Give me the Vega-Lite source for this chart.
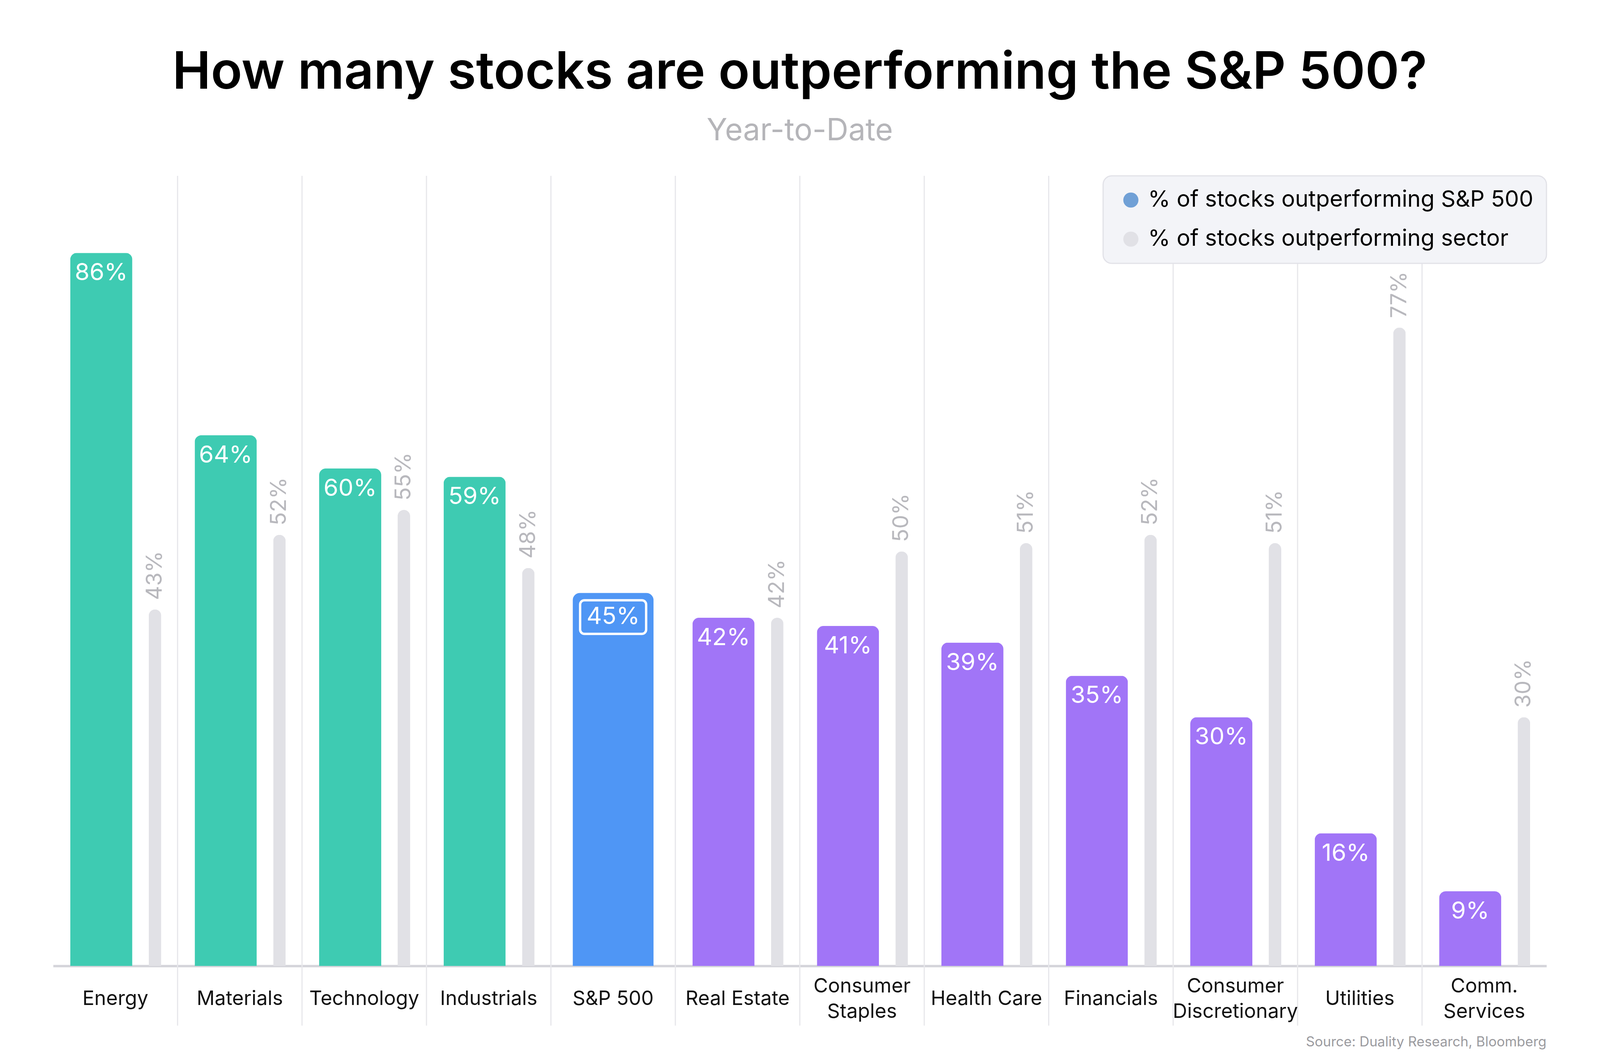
{
  "$schema": "https://vega.github.io/schema/vega-lite/v6.json",
  "width": 3823,
  "height": 2022,
  "autosize": {"type": "none"},
  "padding": {"left": 136, "top": 450, "right": 137, "bottom": 228},
  "background": "white",
  "title": {
    "text": "How many stocks are outperforming the S&P 500?",
    "subtitle": "Year-to-Date",
    "anchor": "middle",
    "font": "Inter",
    "fontSize": 132,
    "fontWeight": 600,
    "color": "#000000",
    "subtitleFont": "Inter",
    "subtitleFontSize": 78,
    "subtitleColor": "#b5b5b9",
    "subtitlePadding": 42,
    "offset": 72
  },
  "config": {"view": {"stroke": null}, "font": "Inter"},
  "datasets": {
    "sectors": [
      {"sector": "Energy", "group": "above", "vs_index": 0.86, "vs_sector": 0.43},
      {"sector": "Materials", "group": "above", "vs_index": 0.64, "vs_sector": 0.52},
      {"sector": "Technology", "group": "above", "vs_index": 0.60, "vs_sector": 0.55},
      {"sector": "Industrials", "group": "above", "vs_index": 0.59, "vs_sector": 0.48},
      {"sector": "S&P 500", "group": "index", "vs_index": 0.45, "vs_sector": null},
      {"sector": "Real Estate", "group": "below", "vs_index": 0.42, "vs_sector": 0.42},
      {"sector": "Consumer Staples", "group": "below", "vs_index": 0.41, "vs_sector": 0.50},
      {"sector": "Health Care", "group": "below", "vs_index": 0.39, "vs_sector": 0.51},
      {"sector": "Financials", "group": "below", "vs_index": 0.35, "vs_sector": 0.52},
      {"sector": "Consumer Discretionary", "group": "below", "vs_index": 0.30, "vs_sector": 0.51},
      {"sector": "Utilities", "group": "below", "vs_index": 0.16, "vs_sector": 0.77},
      {"sector": "Comm. Services", "group": "below", "vs_index": 0.09, "vs_sector": 0.30}
    ],
    "series": [
      {"series": "% of stocks outperforming S&P 500"},
      {"series": "% of stocks outperforming sector"}
    ]
  },
  "layer": [
    {
      "data": {"name": "sectors"},
      "transform": [{"filter": "datum.sector != 'Energy'"}],
      "mark": {"type": "rule", "color": "#e7e7eb", "strokeWidth": 3},
      "encoding": {
        "x": {"field": "sector", "type": "nominal", "sort": null, "bandPosition": 0,
              "scale": {"domain": ["Energy", "Materials", "Technology", "Industrials", "S&P 500", "Real Estate", "Consumer Staples", "Health Care", "Financials", "Consumer Discretionary", "Utilities", "Comm. Services"], "paddingInner": 0, "paddingOuter": 0}},
        "y": {"datum": 0.953, "type": "quantitative", "scale": {"domain": [0, 0.953]}, "axis": null},
        "y2": {"datum": -0.072}
      }
    },
    {
      "data": {"name": "sectors"},
      "transform": [{"filter": "isValid(datum.vs_sector)"}],
      "mark": {"type": "bar", "width": 32, "xOffset": 101.5, "color": "#e1e1e6", "cornerRadiusTopLeft": 16, "cornerRadiusTopRight": 16},
      "encoding": {
        "x": {"field": "sector", "type": "nominal", "sort": null,
              "scale": {"domain": ["Energy", "Materials", "Technology", "Industrials", "S&P 500", "Real Estate", "Consumer Staples", "Health Care", "Financials", "Consumer Discretionary", "Utilities", "Comm. Services"], "paddingInner": 0, "paddingOuter": 0}},
        "y": {"field": "vs_sector", "type": "quantitative", "scale": {"domain": [0, 0.953]}, "axis": null}
      }
    },
    {
      "data": {"name": "sectors"},
      "transform": [{"filter": "datum.group != 'index'"}],
      "mark": {"type": "bar", "width": 159, "xOffset": -36, "cornerRadiusTopLeft": 17, "cornerRadiusTopRight": 17},
      "encoding": {
        "x": {"field": "sector", "type": "nominal", "sort": null,
              "scale": {"domain": ["Energy", "Materials", "Technology", "Industrials", "S&P 500", "Real Estate", "Consumer Staples", "Health Care", "Financials", "Consumer Discretionary", "Utilities", "Comm. Services"], "paddingInner": 0, "paddingOuter": 0},
              "axis": {
                "title": null,
                "ticks": false,
                "tickSize": 0,
                "grid": false,
                "labels": false,
                "domainColor": "#d4d4da",
                "domainWidth": 6
              }},
        "y": {"field": "vs_index", "type": "quantitative", "scale": {"domain": [0, 0.953]}, "axis": null},
        "fill": {"field": "group", "type": "nominal", "scale": {"domain": ["above", "index", "below"], "range": ["#3ecbb2", "#4f96f5", "#a175f7"]}, "legend": null}
      }
    },
    {
      "data": {"name": "sectors"},
      "transform": [{"filter": "datum.group == 'index'"}],
      "mark": {"type": "bar", "width": 207, "color": "#4f96f5", "cornerRadiusTopLeft": 19, "cornerRadiusTopRight": 19},
      "encoding": {
        "x": {"field": "sector", "type": "nominal", "sort": null,
              "scale": {"domain": ["Energy", "Materials", "Technology", "Industrials", "S&P 500", "Real Estate", "Consumer Staples", "Health Care", "Financials", "Consumer Discretionary", "Utilities", "Comm. Services"], "paddingInner": 0, "paddingOuter": 0}},
        "y": {"field": "vs_index", "type": "quantitative", "scale": {"domain": [0, 0.953]}, "axis": null}
      }
    },
    {
      "data": {"name": "sectors"},
      "transform": [{"filter": "indexof(['Consumer Staples', 'Consumer Discretionary', 'Comm. Services'], datum.sector) < 0"}],
      "mark": {"type": "text", "align": "center", "baseline": "alphabetic", "color": "#111111", "font": "Inter", "fontSize": 51},
      "encoding": {
        "x": {"field": "sector", "type": "nominal", "sort": null,
              "scale": {"domain": ["Energy", "Materials", "Technology", "Industrials", "S&P 500", "Real Estate", "Consumer Staples", "Health Care", "Financials", "Consumer Discretionary", "Utilities", "Comm. Services"], "paddingInner": 0, "paddingOuter": 0}},
        "y": {"datum": -0.0471, "type": "quantitative", "scale": {"domain": [0, 0.953]}, "axis": null},
        "text": {"field": "sector", "type": "nominal"}
      }
    },
    {
      "data": {"name": "sectors"},
      "transform": [{"filter": "indexof(['Consumer Staples', 'Consumer Discretionary', 'Comm. Services'], datum.sector) >= 0"}],
      "mark": {"type": "text", "align": "center", "baseline": "alphabetic", "lineBreak": " ", "lineHeight": 65, "color": "#111111", "font": "Inter", "fontSize": 51},
      "encoding": {
        "x": {"field": "sector", "type": "nominal", "sort": null,
              "scale": {"domain": ["Energy", "Materials", "Technology", "Industrials", "S&P 500", "Real Estate", "Consumer Staples", "Health Care", "Financials", "Consumer Discretionary", "Utilities", "Comm. Services"], "paddingInner": 0, "paddingOuter": 0}},
        "y": {"datum": -0.0320, "type": "quantitative", "scale": {"domain": [0, 0.953]}, "axis": null},
        "text": {"field": "sector", "type": "nominal"}
      }
    },
    {
      "data": {"name": "sectors"},
      "transform": [{"filter": "datum.group != 'index'"}],
      "mark": {"type": "text", "xOffset": -36, "dy": 52, "baseline": "middle", "align": "center", "color": "white", "font": "Inter", "fontSize": 61},
      "encoding": {
        "x": {"field": "sector", "type": "nominal", "sort": null,
              "scale": {"domain": ["Energy", "Materials", "Technology", "Industrials", "S&P 500", "Real Estate", "Consumer Staples", "Health Care", "Financials", "Consumer Discretionary", "Utilities", "Comm. Services"], "paddingInner": 0, "paddingOuter": 0}},
        "y": {"field": "vs_index", "type": "quantitative", "scale": {"domain": [0, 0.953]}, "axis": null},
        "text": {"field": "vs_index", "type": "quantitative", "format": ".0%"}
      }
    },
    {
      "data": {"name": "sectors"},
      "transform": [{"filter": "datum.group == 'index'"}],
      "mark": {"type": "text", "dy": 62, "baseline": "middle", "align": "center", "color": "white", "font": "Inter", "fontSize": 61},
      "encoding": {
        "x": {"field": "sector", "type": "nominal", "sort": null,
              "scale": {"domain": ["Energy", "Materials", "Technology", "Industrials", "S&P 500", "Real Estate", "Consumer Staples", "Health Care", "Financials", "Consumer Discretionary", "Utilities", "Comm. Services"], "paddingInner": 0, "paddingOuter": 0}},
        "y": {"field": "vs_index", "type": "quantitative", "scale": {"domain": [0, 0.953]}, "axis": null},
        "text": {"field": "vs_index", "type": "quantitative", "format": ".0%"}
      }
    },
    {
      "data": {"name": "sectors"},
      "transform": [{"filter": "datum.group == 'index'"}],
      "mark": {"type": "point", "filled": false, "color": "white", "opacity": 1, "strokeWidth": 6, "yOffset": 62, "size": 28561,
               "shape": "M-0.87,-0.509L0.87,-0.509A0.13,0.13 0 0 1 1,-0.379L1,0.379A0.13,0.13 0 0 1 0.87,0.509L-0.87,0.509A0.13,0.13 0 0 1 -1,0.379L-1,-0.379A0.13,0.13 0 0 1 -0.87,-0.509Z"},
      "encoding": {
        "x": {"field": "sector", "type": "nominal", "sort": null,
              "scale": {"domain": ["Energy", "Materials", "Technology", "Industrials", "S&P 500", "Real Estate", "Consumer Staples", "Health Care", "Financials", "Consumer Discretionary", "Utilities", "Comm. Services"], "paddingInner": 0, "paddingOuter": 0}},
        "y": {"field": "vs_index", "type": "quantitative", "scale": {"domain": [0, 0.953]}, "axis": null}
      }
    },
    {
      "data": {"name": "sectors"},
      "transform": [{"filter": "isValid(datum.vs_sector)"}],
      "mark": {"type": "text", "angle": 270, "align": "left", "baseline": "middle", "xOffset": 101.5, "yOffset": -24, "color": "#b8b8bd", "font": "Inter", "fontSize": 56},
      "encoding": {
        "x": {"field": "sector", "type": "nominal", "sort": null,
              "scale": {"domain": ["Energy", "Materials", "Technology", "Industrials", "S&P 500", "Real Estate", "Consumer Staples", "Health Care", "Financials", "Consumer Discretionary", "Utilities", "Comm. Services"], "paddingInner": 0, "paddingOuter": 0}},
        "y": {"field": "vs_sector", "type": "quantitative", "scale": {"domain": [0, 0.953]}, "axis": null},
        "text": {"field": "vs_sector", "type": "quantitative", "format": ".0%"}
      }
    },
    {
      "data": {"values": [{"note": "Source: Duality Research, Bloomberg"}]},
      "mark": {"type": "text", "align": "right", "baseline": "alphabetic", "color": "#9b9b9f", "font": "Inter", "fontSize": 35},
      "encoding": {
        "x": {"datum": "Comm. Services", "type": "nominal", "bandPosition": 1,
              "scale": {"domain": ["Energy", "Materials", "Technology", "Industrials", "S&P 500", "Real Estate", "Consumer Staples", "Health Care", "Financials", "Consumer Discretionary", "Utilities", "Comm. Services"], "paddingInner": 0, "paddingOuter": 0}},
        "y": {"datum": -0.0971, "type": "quantitative", "scale": {"domain": [0, 0.953]}, "axis": null},
        "text": {"field": "note", "type": "nominal"}
      }
    },
    {
      "data": {"name": "series"},
      "mark": {"type": "point", "filled": true, "opacity": 0},
      "encoding": {
        "color": {
          "field": "series",
          "type": "nominal",
          "scale": {
            "domain": ["% of stocks outperforming S&P 500", "% of stocks outperforming sector"],
            "range": ["#70a0d6", "#e1e1e6"]
          },
          "legend": {
            "title": null,
            "orient": "top-right",
            "offset": 0,
            "padding": 33,
            "fillColor": "#f3f4f8",
            "strokeColor": "#e2e2e8",
            "cornerRadius": 22,
            "labelFont": "Inter",
            "labelFontSize": 58,
            "labelColor": "#000000",
            "labelLimit": 2000,
            "labelOffset": 15,
            "symbolType": "circle",
            "symbolSize": 1500,
            "symbolStrokeWidth": 0,
            "symbolOpacity": 1,
            "symbolOffset": 9,
            "rowPadding": 42,
            "encode": {
              "legend": {"update": {"strokeWidth": {"value": 3}}}
            }
          }
        }
      }
    }
  ]
}
